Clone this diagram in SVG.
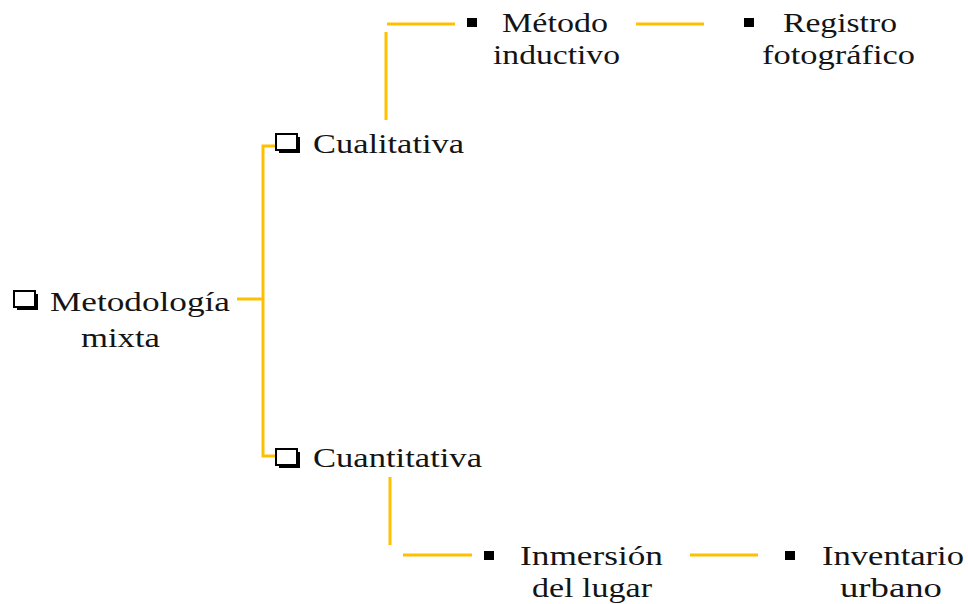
<svg xmlns="http://www.w3.org/2000/svg" width="968" height="604" viewBox="0 0 968 604">
<style>
  text { font-family: 'Liberation Serif', 'Times New Roman', Tinos, serif; font-size: 27px; fill: #141414; }
  .c { stroke: #FFC000; stroke-width: 3; fill: none; }
  .b { fill: #000; }
</style>
<defs>
  <g id="chk">
    <rect x="4" y="4" width="21" height="16" fill="#000"/>
    <rect x="1" y="1" width="21" height="16" fill="#fff" stroke="#000" stroke-width="2"/>
  </g>
</defs>
<rect width="968" height="604" fill="#fff"/>
<g id="connectors">
  <path class="c" d="M237,299 H263"/>
  <path class="c" d="M275,146 H263 V456 H275"/>
  <path class="c" d="M386,120 V32"/>
  <path class="c" d="M387,24 H455"/>
  <path class="c" d="M636,24 H704"/>
  <path class="c" d="M390,477 V545"/>
  <path class="c" d="M403,555 H472"/>
  <path class="c" d="M690,555 H758"/>
</g>
<g id="metodologia">
  <use href="#chk" x="13" y="290"/>
  <text x="50" y="311" textLength="180" lengthAdjust="spacingAndGlyphs">Metodología</text>
  <text x="81" y="347" textLength="79" lengthAdjust="spacingAndGlyphs">mixta</text>
</g>
<g id="cualitativa">
  <use href="#chk" x="275" y="133"/>
  <text x="313" y="153" textLength="151" lengthAdjust="spacingAndGlyphs">Cualitativa</text>
</g>
<g id="cuantitativa">
  <use href="#chk" x="275" y="448"/>
  <text x="313" y="467" textLength="169" lengthAdjust="spacingAndGlyphs">Cuantitativa</text>
</g>
<g id="metodo">
  <rect class="b" x="467" y="18" width="10" height="9"/>
  <text x="502" y="32" textLength="106" lengthAdjust="spacingAndGlyphs">Método</text>
  <text x="493" y="64" textLength="127" lengthAdjust="spacingAndGlyphs">inductivo</text>
</g>
<g id="registro">
  <rect class="b" x="744" y="18" width="10" height="9"/>
  <text x="783" y="32" textLength="114" lengthAdjust="spacingAndGlyphs">Registro</text>
  <text x="762" y="64" textLength="153" lengthAdjust="spacingAndGlyphs">fotográfico</text>
</g>
<g id="inmersion">
  <rect class="b" x="484" y="551" width="10" height="9"/>
  <text x="520" y="565" textLength="143" lengthAdjust="spacingAndGlyphs">Inmersión</text>
  <text x="532" y="597" textLength="120" lengthAdjust="spacingAndGlyphs">del lugar</text>
</g>
<g id="inventario">
  <rect class="b" x="785" y="551" width="10" height="9"/>
  <text x="822" y="565" textLength="142" lengthAdjust="spacingAndGlyphs">Inventario</text>
  <text x="840" y="597" textLength="102" lengthAdjust="spacingAndGlyphs">urbano</text>
</g>
</svg>
